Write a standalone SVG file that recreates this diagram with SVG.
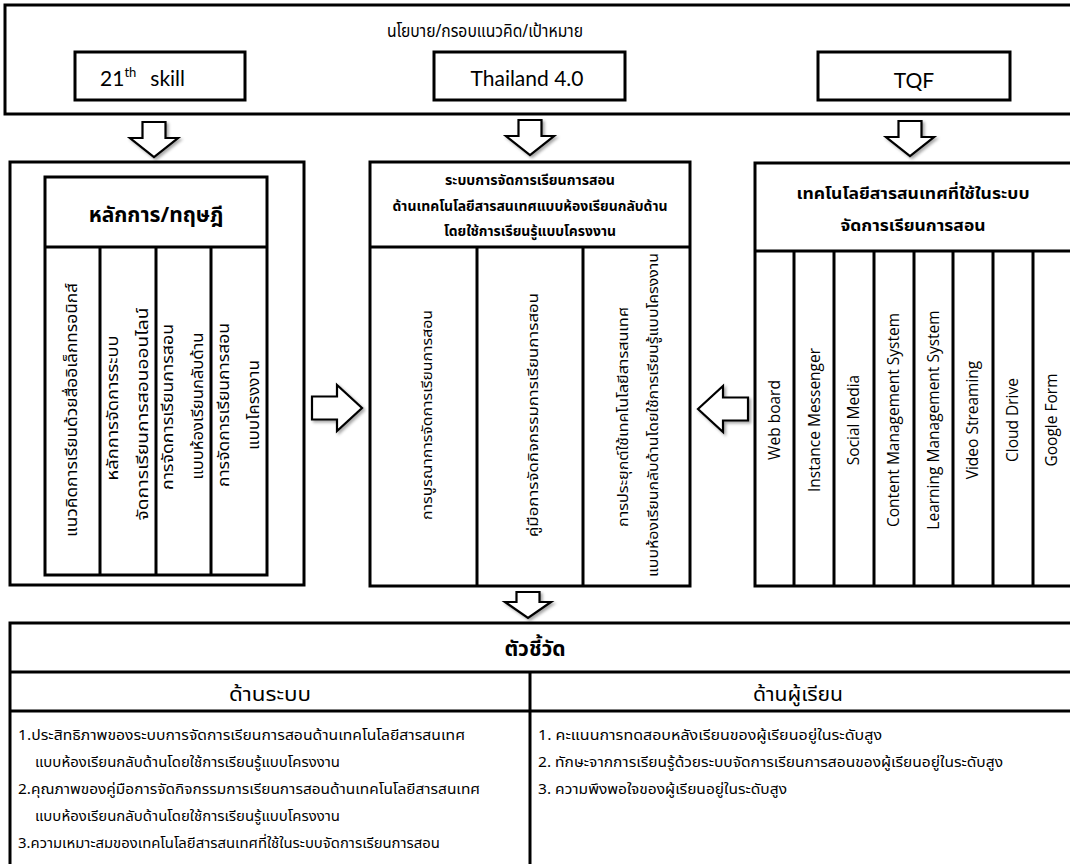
<svg xmlns="http://www.w3.org/2000/svg" width="1070" height="864" viewBox="0 0 1070 864">
<defs>
<style>
.box{fill:#fff;stroke:#000;stroke-width:3}
.ln{stroke:#000;stroke-width:3;fill:none}
.arr{fill:#fff;stroke:#000;stroke-width:2.2;stroke-linejoin:miter}
.th{font-family:"Noto Sans Thai","Noto Sans Thai UI","Loma","Garuda","Tahoma","DejaVu Sans",sans-serif;fill:#000}
.en{font-family:"Lato","Open Sans","Liberation Sans",sans-serif;fill:#000}
.se{font-family:"Open Sans","Noto Sans","Liberation Sans",sans-serif;fill:#000;font-size:15.5px}
.b{font-weight:bold}
.m{text-anchor:middle}
.vl{font-size:15px}
.vm{font-size:14.5px}
.li{font-size:14px}
</style>
<filter id="sh" x="-30%" y="-30%" width="160%" height="160%">
<feDropShadow dx="2" dy="2" stdDeviation="1.5" flood-color="#000" flood-opacity="0.35"/>
</filter>
<path id="down" d="M-11.5,0 H11.5 V16 H24 L0,35 L-24,16 H-11.5 Z"/>
<path id="downS" d="M-11.5,0 H11.5 V10 H23 L0,26 L-23,10 H-11.5 Z"/>
<path id="right" d="M0,-11.5 H25 V-23 L50,0 L25,23 V11.5 H0 Z"/>
</defs>
<rect width="1070" height="864" fill="#fff"/>

<g id="policy">
<rect class="box" x="5" y="5" width="1075" height="109"/>
<text class="th m" x="485" y="37" font-size="17.5" textLength="196" lengthAdjust="spacingAndGlyphs">นโยบาย/กรอบแนวคิด/เป้าหมาย</text>
</g>
<g id="skill21">
<rect class="box" x="75" y="52" width="170" height="48"/>
<text class="en" x="100" y="86" font-size="21">21<tspan font-size="13" dy="-9">th</tspan><tspan dx="14" dy="9">skill</tspan></text>
</g>
<g id="thailand40">
<rect class="box" x="434" y="52" width="191" height="48"/>
<text class="en m" x="527" y="86" font-size="21">Thailand 4.0</text>
</g>
<g id="tqf">
<rect class="box" x="818" y="52" width="192" height="48"/>
<text class="en m" x="914" y="88" font-size="21">TQF</text>
</g>

<g id="principles">
<rect class="box" x="10" y="162" width="294" height="423"/>
<rect class="box" x="45" y="177" width="222" height="398"/>
<line class="ln" x1="45" y1="247" x2="267" y2="247"/>
<line class="ln" x1="100" y1="247" x2="100" y2="575"/>
<line class="ln" x1="156" y1="247" x2="156" y2="575"/>
<line class="ln" x1="211" y1="247" x2="211" y2="575"/>
<text class="th b m" x="156" y="222" font-size="21">หลักการ/ทฤษฎี</text>
<g class="th vl m">
<text transform="translate(77,410) rotate(-90)" textLength="254" lengthAdjust="spacingAndGlyphs">แนวคิดการเรียนด้วยสื่ออิเล็กทรอนิกส์</text>
<text transform="translate(118,408) rotate(-90)" textLength="145" lengthAdjust="spacingAndGlyphs">หลักการจัดการระบบ</text>
<text transform="translate(148,414) rotate(-90)" textLength="213" lengthAdjust="spacingAndGlyphs">จัดการเรียนการสอนออนไลน์</text>
<text transform="translate(173,407) rotate(-90)" textLength="166" lengthAdjust="spacingAndGlyphs">การจัดการเรียนการสอน</text>
<text transform="translate(203,406) rotate(-90)" textLength="147" lengthAdjust="spacingAndGlyphs">แบบห้องเรียนกลับด้าน</text>
<text transform="translate(229,405) rotate(-90)" textLength="164" lengthAdjust="spacingAndGlyphs">การจัดการเรียนการสอน</text>
<text transform="translate(259,405) rotate(-90)" textLength="90" lengthAdjust="spacingAndGlyphs">แบบโครงงาน</text>
</g>
</g>

<g id="system">
<rect class="box" x="370" y="162" width="320" height="424"/>
<line class="ln" x1="370" y1="247" x2="690" y2="247"/>
<line class="ln" x1="477" y1="247" x2="477" y2="586"/>
<line class="ln" x1="583" y1="247" x2="583" y2="586"/>
<g class="th b m" font-size="14">
<text x="530" y="185" textLength="170" lengthAdjust="spacingAndGlyphs">ระบบการจัดการเรียนการสอน</text>
<text x="530" y="211" textLength="275" lengthAdjust="spacingAndGlyphs">ด้านเทคโนโลยีสารสนเทศแบบห้องเรียนกลับด้าน</text>
<text x="530" y="236" textLength="172" lengthAdjust="spacingAndGlyphs">โดยใช้การเรียนรู้แบบโครงงาน</text>
</g>
<g class="th vm m">
<text transform="translate(432,415) rotate(-90)" textLength="210" lengthAdjust="spacingAndGlyphs">การบูรณาการจัดการเรียนการสอน</text>
<text transform="translate(538,415) rotate(-90)" textLength="244" lengthAdjust="spacingAndGlyphs">คู่มือการจัดกิจกรรมการเรียนการสอน</text>
<text transform="translate(628,417) rotate(-90)" textLength="220" lengthAdjust="spacingAndGlyphs">การประยุกต์ใช้เทคโนโลยีสารสนเทศ</text>
<text transform="translate(658,415) rotate(-90)" textLength="324" lengthAdjust="spacingAndGlyphs">แบบห้องเรียนกลับด้านโดยใช้การเรียนรู้แบบโครงงาน</text>
</g>
</g>

<g id="technology">
<rect class="box" x="755" y="163" width="325" height="423"/>
<line class="ln" x1="755" y1="251" x2="1070" y2="251"/>
<line class="ln" x1="794" y1="251" x2="794" y2="586"/>
<line class="ln" x1="834" y1="251" x2="834" y2="586"/>
<line class="ln" x1="874" y1="251" x2="874" y2="586"/>
<line class="ln" x1="914" y1="251" x2="914" y2="586"/>
<line class="ln" x1="953" y1="251" x2="953" y2="586"/>
<line class="ln" x1="993" y1="251" x2="993" y2="586"/>
<line class="ln" x1="1033" y1="251" x2="1033" y2="586"/>
<g class="th b m" font-size="16.5">
<text x="913" y="199" textLength="233" lengthAdjust="spacingAndGlyphs">เทคโนโลยีสารสนเทศที่ใช้ในระบบ</text>
<text x="913" y="231" textLength="145" lengthAdjust="spacingAndGlyphs">จัดการเรียนการสอน</text>
</g>
<g class="se m">
<text transform="translate(780,420) rotate(-90)">Web board</text>
<text transform="translate(820,420) rotate(-90)">Instance Messenger</text>
<text transform="translate(859,420) rotate(-90)">Social Media</text>
<text transform="translate(899,420) rotate(-90)">Content Management System</text>
<text transform="translate(939,420) rotate(-90)">Learning Management System</text>
<text transform="translate(978,420) rotate(-90)">Video Streaming</text>
<text transform="translate(1018,420) rotate(-90)">Cloud Drive</text>
<text transform="translate(1057,420) rotate(-90)">Google Form</text>
</g>
</g>

<g id="indicators">
<rect class="box" x="10" y="623" width="1070" height="250"/>
<line class="ln" x1="10" y1="672" x2="1070" y2="672"/>
<line class="ln" x1="10" y1="711" x2="1070" y2="711"/>
<line class="ln" x1="530" y1="672" x2="530" y2="864"/>
<text class="th b m" x="535" y="656" font-size="21">ตัวชี้วัด</text>
<text class="th m" x="270" y="701" font-size="19" textLength="82" lengthAdjust="spacingAndGlyphs">ด้านระบบ</text>
<text class="th m" x="798" y="701" font-size="19" textLength="90" lengthAdjust="spacingAndGlyphs">ด้านผู้เรียน</text>
<g class="th li">
<text x="18" y="740" textLength="447" lengthAdjust="spacingAndGlyphs">1.ประสิทธิภาพของระบบการจัดการเรียนการสอนด้านเทคโนโลยีสารสนเทศ</text>
<text x="35" y="767" textLength="305" lengthAdjust="spacingAndGlyphs">แบบห้องเรียนกลับด้านโดยใช้การเรียนรู้แบบโครงงาน</text>
<text x="18" y="794" textLength="462" lengthAdjust="spacingAndGlyphs">2.คุณภาพของคู่มือการจัดกิจกรรมการเรียนการสอนด้านเทคโนโลยีสารสนเทศ</text>
<text x="35" y="821" textLength="305" lengthAdjust="spacingAndGlyphs">แบบห้องเรียนกลับด้านโดยใช้การเรียนรู้แบบโครงงาน</text>
<text x="18" y="848" textLength="422" lengthAdjust="spacingAndGlyphs">3.ความเหมาะสมของเทคโนโลยีสารสนเทศที่ใช้ในระบบจัดการเรียนการสอน</text>
<text x="538" y="740" textLength="344" lengthAdjust="spacingAndGlyphs">1. คะแนนการทดสอบหลังเรียนของผู้เรียนอยู่ในระดับสูง</text>
<text x="538" y="767" textLength="465" lengthAdjust="spacingAndGlyphs">2. ทักษะจากการเรียนรู้ด้วยระบบจัดการเรียนการสอนของผู้เรียนอยู่ในระดับสูง</text>
<text x="538" y="794" textLength="249" lengthAdjust="spacingAndGlyphs">3. ความพึงพอใจของผู้เรียนอยู่ในระดับสูง</text>
</g>
</g>

<g id="connectors" filter="url(#sh)">
<use href="#down" class="arr" transform="translate(154,122)"/>
<use href="#down" class="arr" transform="translate(530,120)"/>
<use href="#down" class="arr" transform="translate(910,121)"/>
<use href="#right" class="arr" transform="translate(312,408)"/>
<use href="#right" class="arr" transform="translate(748,409) scale(-1,1)"/>
<use href="#downS" class="arr" transform="translate(528,592)"/>
</g>
</svg>
